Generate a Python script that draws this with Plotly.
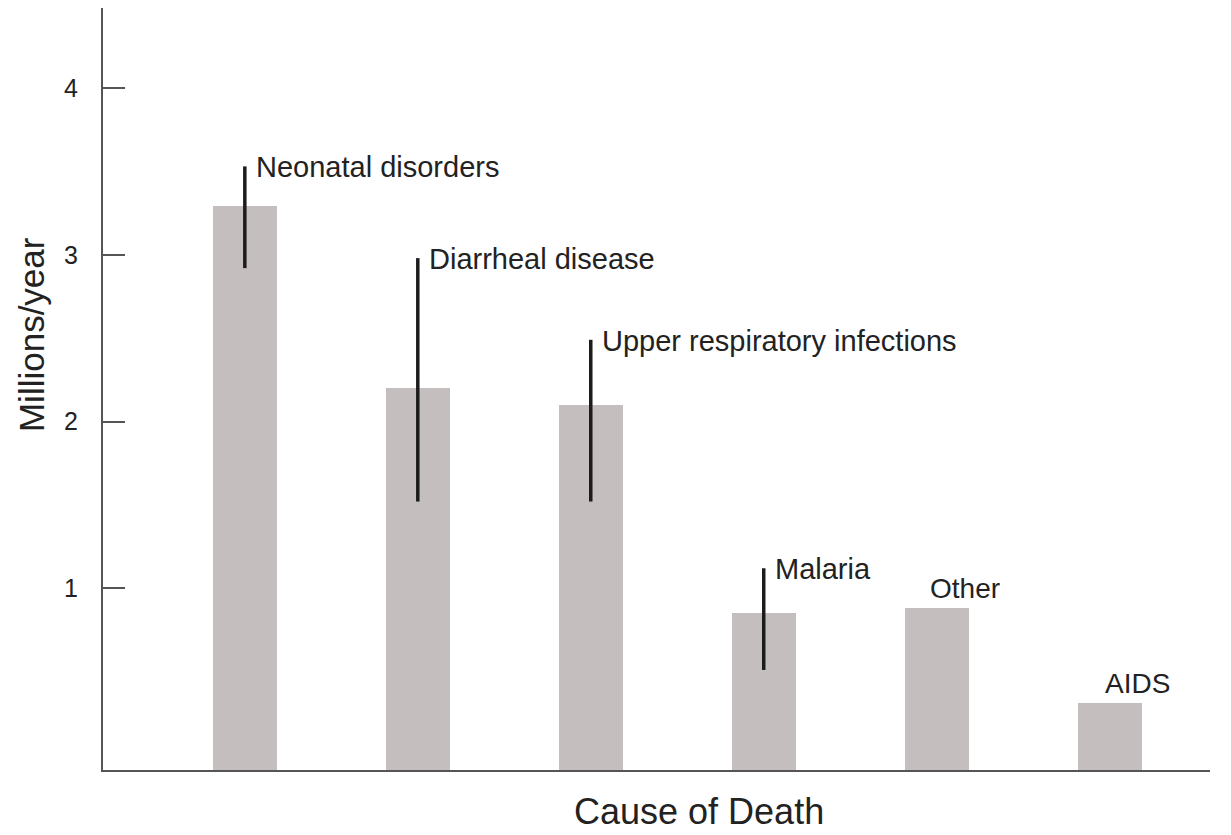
import plotly.graph_objects as go

# ---- data ----
causes = ["Neonatal disorders", "Diarrheal disease", "Upper respiratory infections",
          "Malaria", "Other", "AIDS"]
deaths = [3.29, 2.20, 2.10, 0.85, 0.88, 0.31]          # millions / year
range_high = [3.53, 2.98, 2.49, 1.12, None, None]      # upper end of vertical range line
range_low = [2.92, 1.52, 1.52, 0.51, None, None]       # lower end of vertical range line
y_ticks = [1, 2, 3, 4]
x_title = "Cause of Death"
y_title = "Millions/year"

# ---- style ----
FONT = "Arial, 'Liberation Sans', sans-serif"
BAR_COLOR = "#c4bfbe"
LINE_COLOR = "#1c1c1c"
AXIS_COLOR = "#555555"
TEXT_COLOR = "#222222"
Y_MIN, Y_MAX = -0.09, 4.48
X_MIN, X_MAX = -0.82, 5.58

xs = list(range(len(causes)))

fig = go.Figure()
fig.add_trace(go.Bar(
    x=xs,
    y=[v - Y_MIN for v in deaths],
    base=Y_MIN,
    width=0.37,
    marker=dict(color=BAR_COLOR, line=dict(width=0)),
    hoverinfo="skip",
    showlegend=False,
))

# vertical range lines
lx, ly = [], []
for i, (lo, hi) in enumerate(zip(range_low, range_high)):
    if lo is None or hi is None:
        continue
    lx += [i, i, None]
    ly += [lo, hi, None]
fig.add_trace(go.Scatter(
    x=lx, y=ly, mode="lines",
    line=dict(color=LINE_COLOR, width=3.5),
    hoverinfo="skip", showlegend=False,
))

# labels
for i, name in enumerate(causes):
    if range_high[i] is not None:
        fig.add_annotation(
            x=i, y=range_high[i], text=name, showarrow=False,
            xanchor="left", yanchor="middle", xshift=9, yshift=-1,
            font=dict(family=FONT, size=29, color=TEXT_COLOR),
        )
    else:
        fig.add_annotation(
            x=i, y=deaths[i], text=name, showarrow=False,
            xanchor="center", yanchor="bottom", xshift=28, yshift=2,
            font=dict(family=FONT, size=28, color=TEXT_COLOR),
        )

# axis titles (positioned as in reference)
fig.add_annotation(
    xref="paper", yref="paper", x=-0.064, y=0.571,
    text=y_title, textangle=-90, showarrow=False,
    xanchor="center", yanchor="middle",
    font=dict(family=FONT, size=35, color=TEXT_COLOR),
)
fig.add_annotation(
    xref="paper", yref="paper", x=0.538, y=-0.0545,
    text=x_title, showarrow=False,
    xanchor="center", yanchor="middle", borderpad=0,
    font=dict(family=FONT, size=36, color=TEXT_COLOR),
)

# page body has an 8px margin; size the figure to fit the 1231x835 window
fig.update_layout(
    width=1223, height=827,
    margin=dict(l=95, r=21, t=0, b=64.5),
    paper_bgcolor="white", plot_bgcolor="white",
    font=dict(family=FONT, color=TEXT_COLOR),
    bargap=0,
)
fig.update_xaxes(
    range=[X_MIN, X_MAX], showgrid=False, zeroline=False,
    showline=True, linecolor=AXIS_COLOR, linewidth=2,
    showticklabels=False, ticks="",
)
fig.update_yaxes(
    range=[Y_MIN, Y_MAX], showgrid=False, zeroline=False,
    showline=True, linecolor=AXIS_COLOR, linewidth=2,
    tickvals=y_ticks, ticktext=[str(t) for t in y_ticks],
    ticks="inside", ticklen=22, tickwidth=1.5, tickcolor=AXIS_COLOR,
    ticklabelstandoff=18,
    tickfont=dict(family=FONT, size=25, color=TEXT_COLOR),
)

fig.write_html("out.html")
